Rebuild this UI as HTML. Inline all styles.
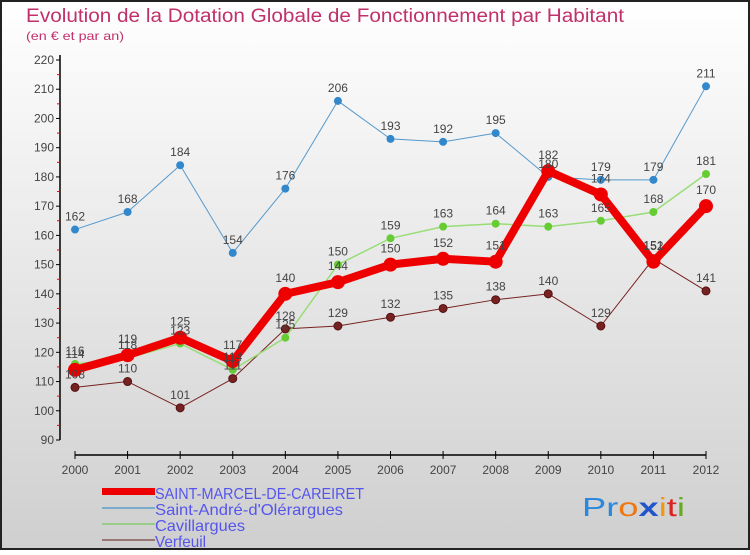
<!DOCTYPE html>
<html><head><meta charset="utf-8"><style>
body{margin:0;width:750px;height:550px;overflow:hidden;font-family:"Liberation Sans",sans-serif}
svg text{font-family:"Liberation Sans",sans-serif}
</style></head><body>
<svg id="c" width="750" height="550">
<defs><linearGradient id="bg" x1="0" y1="0" x2="0" y2="1"><stop offset="0" stop-color="#ffffff"/><stop offset="1" stop-color="#cfcfcf"/></linearGradient></defs>
<rect x="1" y="1" width="748" height="548" fill="url(#bg)" stroke="#222" stroke-width="2"/>
<text x="26" y="22" font-size="19" fill="#c0306a" textLength="598" lengthAdjust="spacingAndGlyphs">Evolution de la Dotation Globale de Fonctionnement par Habitant</text>
<text x="26" y="40" font-size="12" fill="#c0306a" textLength="98" lengthAdjust="spacingAndGlyphs">(en € et par an)</text>
<g id="axes"></g><g id="series"></g><g id="labels"></g>
<g>
<rect x="102" y="488" width="53" height="7" fill="#ee0000"/>
<text x="155" y="499" font-size="16" fill="#5555ee" textLength="209" lengthAdjust="spacingAndGlyphs">SAINT-MARCEL-DE-CAREIRET</text>
<rect x="102" y="507" width="53" height="2" fill="#7aabcc"/>
<text x="155" y="515" font-size="16" fill="#5555ee" textLength="188" lengthAdjust="spacingAndGlyphs">Saint-André-d'Olérargues</text>
<rect x="102" y="523" width="53" height="2" fill="#99cc88"/>
<text x="155" y="531" font-size="16" fill="#5555ee" textLength="90" lengthAdjust="spacingAndGlyphs">Cavillargues</text>
<rect x="102" y="539" width="53" height="2" fill="#997777"/>
<text x="155" y="547" font-size="16" fill="#5555ee" textLength="51" lengthAdjust="spacingAndGlyphs">Verfeuil</text>
</g>
<text x="582" y="516" font-size="26" textLength="103" lengthAdjust="spacingAndGlyphs"><tspan fill="#2a88dd">Pr</tspan><tspan fill="#ee7711">o</tspan><tspan fill="#2255cc" font-weight="bold">x</tspan><tspan fill="#ee9911">i</tspan><tspan fill="#dd2222">t</tspan><tspan fill="#66aa22">i</tspan></text>
</svg>
<script>
const years=[2000,2001,2002,2003,2004,2005,2006,2007,2008,2009,2010,2011,2012];
const yTicks=[90,100,110,120,130,140,150,160,170,180,190,200,210,220];
const saintMarcel=[114,119,125,117,140,144,150,152,151,182,174,151,170];
const saintAndre=[162,168,184,154,176,206,193,192,195,180,179,179,211];
const cavillargues=[116,118,123,114,125,150,159,163,164,163,165,168,181];
const verfeuil=[108,110,101,111,128,129,132,135,138,140,129,152,141];
const NS="http://www.w3.org/2000/svg";
const x=i=>75+i*(706-75)/(years.length-1);
const y=v=>440-(v-90)*(380/130);
function mk(t,a,p){const e=document.createElementNS(NS,t);for(const k in a)e.setAttribute(k,a[k]);p.appendChild(e);return e;}
const ax=document.getElementById('axes');
mk('line',{x1:60,y1:55,x2:60,y2:440,stroke:'#000','stroke-width':1.5},ax);
mk('line',{x1:75,y1:455,x2:706,y2:455,stroke:'#000','stroke-width':1.5},ax);
yTicks.forEach(v=>{
 mk('line',{x1:56,y1:y(v),x2:60,y2:y(v),stroke:'#000'},ax);
 if(v<220)mk('line',{x1:57,y1:y(v+5),x2:60,y2:y(v+5),stroke:'#e00'},ax);
 const t=mk('text',{x:54,y:y(v)+4,'text-anchor':'end','font-size':12,fill:'#444'},ax);t.textContent=v;
 
 
});
years.forEach((yr,i)=>{
 mk('line',{x1:x(i),y1:451,x2:x(i),y2:459,stroke:'#000'},ax);
 const t=mk('text',{x:x(i),y:474,'text-anchor':'middle','font-size':12,fill:'#444'},ax);t.textContent=yr;
 
 
});
const S=[
 {d:verfeuil,c:'#772222',w:1,r:4,n:'verfeuil'},
 {d:cavillargues,c:'#99dd77',w:1.5,r:4,n:'cavillargues',pc:'#66cc33'},
 {d:saintAndre,c:'#5599cc',w:1,r:4,n:'saint-andre',pc:'#3388cc'},
 {d:saintMarcel,c:'#ee0000',w:8,r:7,n:'saint-marcel'}];
const sg=document.getElementById('series'),lg=document.getElementById('labels');
S.forEach(s=>{
 const p=mk('polyline',{points:s.d.map((v,i)=>x(i)+','+y(v)).join(' '),fill:'none',stroke:s.c,'stroke-width':s.w,'stroke-linejoin':'round'},sg);
 
 
 s.d.forEach((v,i)=>{
  const c=mk('circle',{cx:x(i),cy:y(v),r:s.r,fill:s.pc||s.c,stroke:s.n=='verfeuil'?'#551111':'none'},sg);
  
  
  const t=mk('text',{x:x(i),y:y(v)-(s.r+5),'text-anchor':'middle','font-size':12,fill:'#444'},lg);t.textContent=v;
  
  
 });
});
</script>
</body></html>
